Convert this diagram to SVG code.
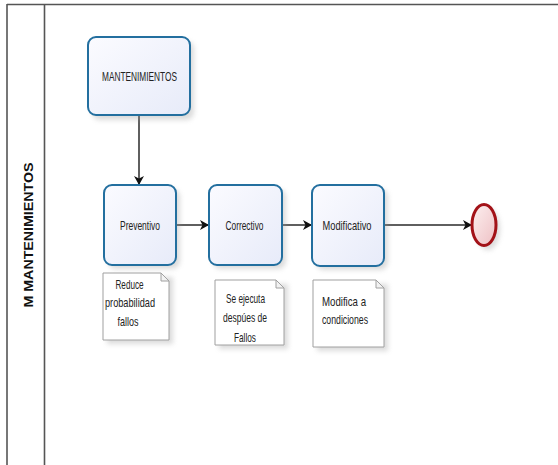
<svg xmlns="http://www.w3.org/2000/svg" width="558" height="465" viewBox="0 0 558 465">
  <defs>
    <linearGradient id="taskFill" x1="0" y1="0" x2="1" y2="1">
      <stop offset="0" stop-color="#fbfbff"/>
      <stop offset="1" stop-color="#e7ebf9"/>
    </linearGradient>
    <linearGradient id="endFill" x1="0" y1="0" x2="1" y2="1">
      <stop offset="0" stop-color="#fdf0f0"/>
      <stop offset="1" stop-color="#eec0c4"/>
    </linearGradient>
    <filter id="soft" x="-20%" y="-20%" width="140%" height="140%">
      <feGaussianBlur stdDeviation="2.5"/>
    </filter>
    <marker id="arrow" markerWidth="10" markerHeight="10" refX="9" refY="5" orient="auto" markerUnits="userSpaceOnUse">
      <path d="M0,0 L9,5 L0,10 L2.5,5 Z" fill="#111"/>
    </marker>
  </defs>
  <style>
    .frame { stroke: #555; stroke-width: 1.6; fill: none; }
    .task { fill: url(#taskFill); stroke: #236f9f; stroke-width: 2; }
    .shadow { fill: #9a9a9a; opacity: 0.35; filter: url(#soft); }
    .note { fill: #ffffff; stroke: #a0a0a0; stroke-width: 1; }
    .fold { fill: #f2f2f2; stroke: #a0a0a0; stroke-width: 1; }
    .flow { stroke: #2a2a2a; stroke-width: 1.5; fill: none; marker-end: url(#arrow); }
    .lbl { font-family: "Liberation Sans", Arial, sans-serif; font-size: 13px; fill: #222; text-anchor: middle; }
    .lane { font-family: "Liberation Sans", Arial, sans-serif; font-size: 13px; font-weight: bold; fill: #111; text-anchor: middle; }
  </style>

  <rect width="558" height="465" fill="#ffffff"/>

  <!-- pool frame and lane header -->
  <g id="pool">
    <line class="frame" x1="7" y1="4.5" x2="558" y2="4.5"/>
    <line class="frame" x1="7" y1="4" x2="7" y2="465"/>
    <line class="frame" x1="44.5" y1="4" x2="44.5" y2="465"/>
    <text class="lane" transform="translate(33,235) rotate(-90)" textLength="145" lengthAdjust="spacingAndGlyphs">M MANTENIMIENTOS</text>
  </g>

  <!-- connectors -->
  <g id="connectors">
    <path class="flow" d="M139,116 L139,185"/>
    <path class="flow" d="M176,225 L209,225"/>
    <path class="flow" d="M282,225 L312,225"/>
    <path class="flow" d="M384,225 L472,225"/>
  </g>

  <g id="mantenimientos">
    <rect class="shadow" x="92" y="41" width="102" height="79" rx="8"/>
    <rect class="task" x="88" y="37" width="102" height="78" rx="8"/>
    <text class="lbl" x="139.5" y="80.5" textLength="75" lengthAdjust="spacingAndGlyphs">MANTENIMIENTOS</text>
  </g>

  <g id="preventivo">
    <rect class="shadow" x="108" y="189" width="72" height="80" rx="8"/>
    <rect class="task" x="104" y="185" width="72" height="80" rx="8"/>
    <text class="lbl" x="140" y="229.5" textLength="40" lengthAdjust="spacingAndGlyphs">Preventivo</text>
  </g>

  <g id="correctivo">
    <rect class="shadow" x="213" y="189" width="73" height="80" rx="8"/>
    <rect class="task" x="209" y="185" width="73" height="80" rx="8"/>
    <text class="lbl" x="244.5" y="229.5" textLength="38" lengthAdjust="spacingAndGlyphs">Correctivo</text>
  </g>

  <g id="modificativo">
    <rect class="shadow" x="316" y="189" width="72" height="81" rx="8"/>
    <rect class="task" x="312" y="185" width="72" height="81" rx="8"/>
    <text class="lbl" x="347" y="229.5" textLength="49" lengthAdjust="spacingAndGlyphs">Modificativo</text>
  </g>

  <g id="fin">
    <ellipse class="shadow" cx="488" cy="229" rx="12" ry="21"/>
    <ellipse cx="484" cy="225" rx="12" ry="20.5" fill="url(#endFill)" stroke="#a31218" stroke-width="3"/>
  </g>

  <g id="nota-preventivo">
    <rect class="shadow" x="107" y="277" width="66" height="67"/>
    <path class="note" d="M103,273 L161,273 L169,281 L169,340 L103,340 Z"/>
    <path class="fold" d="M161,273 L161,281 L169,281 Z"/>
    <text class="lbl" x="129.5" y="288.5" textLength="28" lengthAdjust="spacingAndGlyphs">Reduce</text>
    <text class="lbl" x="130" y="307" textLength="50" lengthAdjust="spacingAndGlyphs">probabilidad</text>
    <text class="lbl" x="128" y="325.5" textLength="21" lengthAdjust="spacingAndGlyphs">fallos</text>
  </g>

  <g id="nota-correctivo">
    <rect class="shadow" x="219" y="284" width="69" height="65"/>
    <path class="note" d="M215,280 L276,280 L284,288 L284,345 L215,345 Z"/>
    <path class="fold" d="M276,280 L276,288 L284,288 Z"/>
    <text class="lbl" x="245.5" y="302.5" textLength="39" lengthAdjust="spacingAndGlyphs">Se ejecuta</text>
    <text class="lbl" x="245" y="321.5" textLength="44" lengthAdjust="spacingAndGlyphs">despúes de</text>
    <text class="lbl" x="245" y="341.5" textLength="22" lengthAdjust="spacingAndGlyphs">Fallos</text>
  </g>

  <g id="nota-modificativo">
    <rect class="shadow" x="317" y="284" width="71" height="67"/>
    <path class="note" d="M313,280 L376,280 L384,288 L384,347 L313,347 Z"/>
    <path class="fold" d="M376,280 L376,288 L384,288 Z"/>
    <text class="lbl" x="344" y="305.5" textLength="44" lengthAdjust="spacingAndGlyphs">Modifica a</text>
    <text class="lbl" x="345" y="323.5" textLength="46" lengthAdjust="spacingAndGlyphs">condiciones</text>
  </g>
</svg>
